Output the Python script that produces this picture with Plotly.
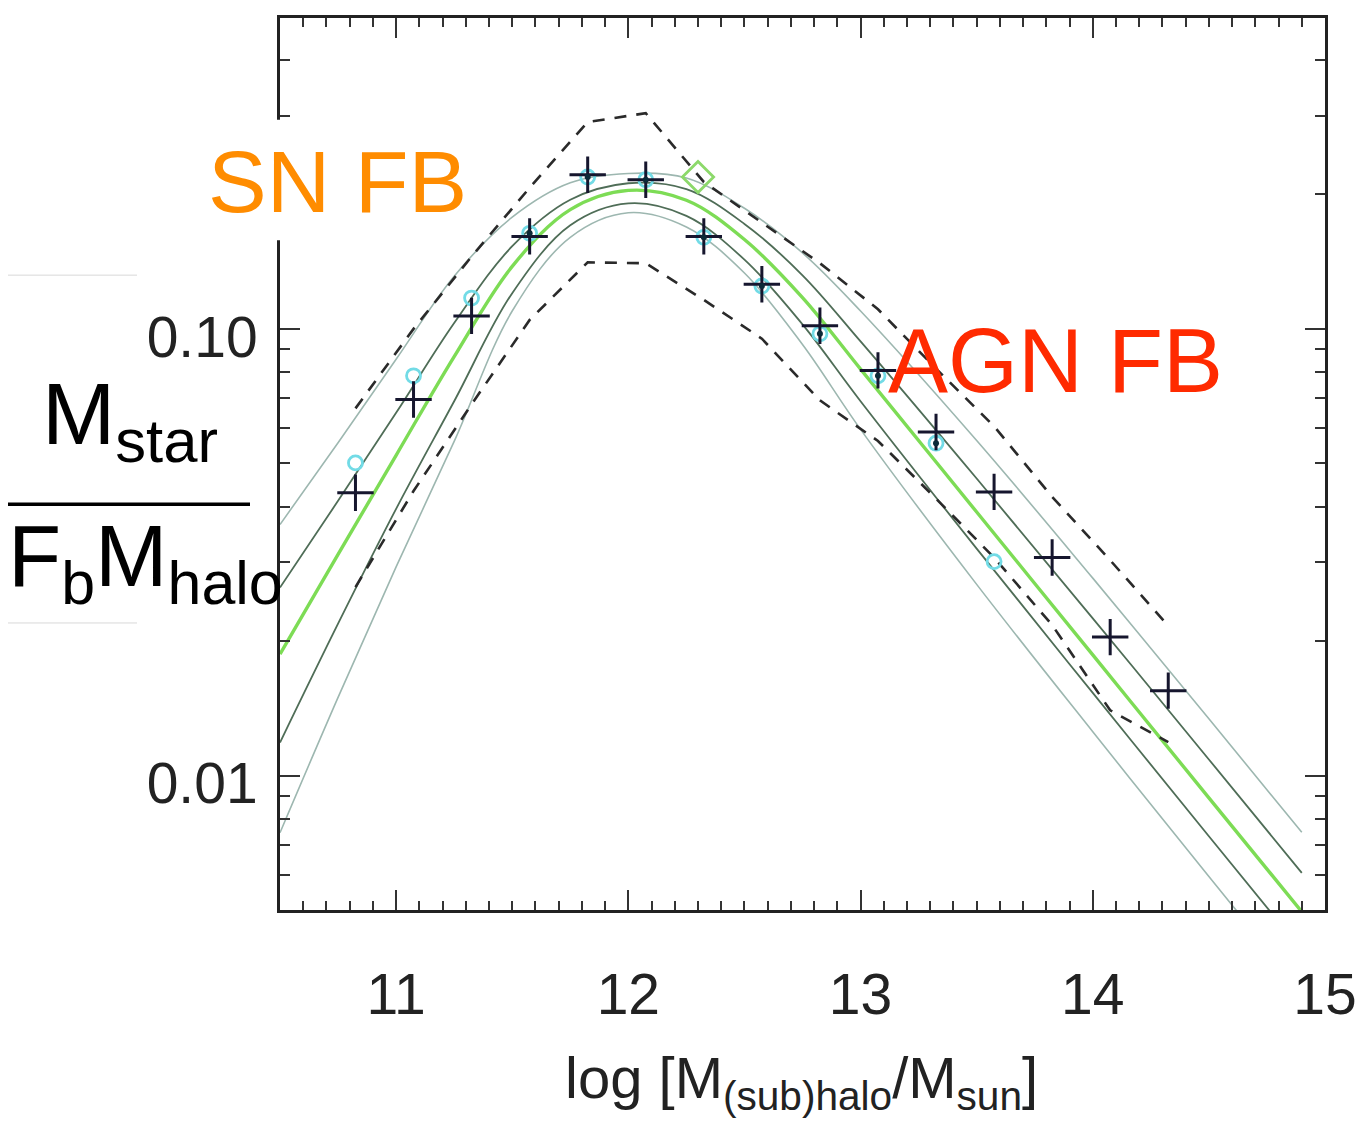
import numpy as np
import plotly.graph_objects as go

# ---------------- data ----------------
# model curves: x = log halo mass, values = log10(Mstar / (Fb Mhalo))
curve_x = [10.5, 10.75, 11.0, 11.25, 11.5, 11.75, 12.0, 12.25, 12.5, 12.75, 13.0, 13.5, 14.0, 14.5, 14.9]
green_log = [-1.728, -1.505, -1.283, -1.062, -0.860, -0.733, -0.690, -0.712, -0.800, -0.930, -1.090, -1.410, -1.730, -2.050, -2.305]
dark_upper_log = [-1.579, -1.385, -1.188, -0.987, -0.815, -0.711, -0.674, -0.687, -0.765, -0.880, -1.028, -1.335, -1.648, -1.964, -2.218]
dark_lower_log = [-1.926, -1.660, -1.403, -1.162, -0.920, -0.768, -0.719, -0.747, -0.845, -0.990, -1.162, -1.492, -1.815, -2.136, -2.391]
outer_upper_log = [-1.438, -1.255, -1.068, -0.882, -0.750, -0.673, -0.652, -0.662, -0.730, -0.830, -0.960, -1.250, -1.558, -1.873, -2.127]
outer_lower_log = [-2.128, -1.825, -1.533, -1.252, -0.960, -0.795, -0.740, -0.772, -0.875, -1.035, -1.225, -1.572, -1.902, -2.226, -2.483]

# binned data
bin_x = [10.825, 11.075, 11.325, 11.575, 11.825, 12.075, 12.325, 12.575, 12.825, 13.075, 13.325, 13.575, 13.825, 14.075, 14.325]
upper_dashed_log = [-1.178, -1.000, -0.838, -0.684, -0.537, -0.517, -0.671, -0.762, -0.853, -0.956, -1.089, -1.218, -1.376, -1.518, -1.665]
lower_dashed_log = [-1.578, -1.363, -1.169, -0.980, -0.851, -0.853, -0.935, -1.022, -1.160, -1.251, -1.380, -1.512, -1.663, -1.854, -1.925]
cross_log = [-1.367, -1.158, -0.971, -0.793, -0.655, -0.666, -0.793, -0.900, -0.993, -1.093, -1.231, -1.365, -1.512, -1.690, -1.810]

cyan_x = [10.825, 11.075, 11.325, 11.575, 11.825, 12.075, 12.325, 12.575, 12.825, 13.075, 13.325, 13.575]
cyan_log = [-1.300, -1.105, -0.931, -0.786, -0.660, -0.666, -0.795, -0.904, -1.011, -1.105, -1.256, -1.521]

dot_x = [11.575, 11.825, 12.075, 12.325, 12.575, 12.825, 13.075, 13.325]
dot_log = [-0.786, -0.660, -0.666, -0.795, -0.904, -1.011, -1.105, -1.256]

diamond_x = [12.30]
diamond_log = [-0.660]

x_tickvals = [11, 12, 13, 14, 15]
x_ticktext = ["11", "12", "13", "14", "15"]
y_tickvals = [0.01, 0.1]
y_ticktext = ["0.01", "0.10"]
y_minor_vals = [0.005, 0.006, 0.007, 0.008, 0.009,
                0.02, 0.03, 0.04, 0.05, 0.06, 0.07, 0.08, 0.09,
                0.2, 0.3, 0.4, 0.5]


def lin(v):
    return np.power(10.0, np.array(v))


FONT = "Liberation Sans, Arial, Helvetica, sans-serif"

fig = go.Figure()

fig.add_trace(go.Scatter(x=curve_x, y=lin(outer_upper_log), mode="lines",
                         line=dict(color="#9db7b0", width=1.6, shape="spline"), showlegend=False))
fig.add_trace(go.Scatter(x=curve_x, y=lin(outer_lower_log), mode="lines",
                         line=dict(color="#9db7b0", width=1.6, shape="spline"), showlegend=False))
fig.add_trace(go.Scatter(x=curve_x, y=lin(dark_upper_log), mode="lines",
                         line=dict(color="#4f6d57", width=1.8, shape="spline"), showlegend=False))
fig.add_trace(go.Scatter(x=curve_x, y=lin(dark_lower_log), mode="lines",
                         line=dict(color="#4f6d57", width=1.8, shape="spline"), showlegend=False))
fig.add_trace(go.Scatter(x=curve_x, y=lin(green_log), mode="lines",
                         line=dict(color="#7ddc55", width=3.4, shape="spline"), showlegend=False))

fig.add_trace(go.Scatter(x=bin_x, y=lin(upper_dashed_log), mode="lines",
                         line=dict(color="#2a2a2a", width=2.6, dash="12px,10px"), showlegend=False))
fig.add_trace(go.Scatter(x=bin_x, y=lin(lower_dashed_log), mode="lines",
                         line=dict(color="#2a2a2a", width=2.6, dash="12px,10px"), showlegend=False))

fig.add_trace(go.Scatter(x=cyan_x, y=lin(cyan_log), mode="markers",
                         marker=dict(symbol="circle-open", size=14, color="#72dbe6",
                                     line=dict(width=2.8, color="#72dbe6")), showlegend=False))
fig.add_trace(go.Scatter(x=bin_x, y=lin(cross_log), mode="markers",
                         marker=dict(symbol="cross-thin", size=26, color="#16162e",
                                     line=dict(width=3, color="#16162e")), showlegend=False))
fig.add_trace(go.Scatter(x=dot_x, y=lin(dot_log), mode="markers",
                         marker=dict(symbol="circle", size=6, color="#0b2a38"), showlegend=False))
fig.add_trace(go.Scatter(x=diamond_x, y=lin(diamond_log), mode="markers",
                         marker=dict(symbol="diamond-open", size=24, color="#8cd96a",
                                     line=dict(width=2.8, color="#8cd96a")), showlegend=False))

# the page has an 8px body margin, so the figure is drawn 8px right/down
OFF = 8
L, R, T, B = 272, 41, 7, 219
W, H = 1366 - OFF, 1129 - OFF
PW, PH = W - L - R, H - T - B


def px(xp):  # page pixel x -> paper
    return (xp - OFF - L) / PW


def py(yp):  # page pixel y -> paper
    return (H - B - (yp - OFF)) / PH


axis_common = dict(showline=True, linecolor="#222222", linewidth=3, mirror="allticks",
                   ticks="inside", ticklen=20, tickwidth=2, tickcolor="#333333",
                   showgrid=False, zeroline=False,
                   tickfont=dict(family=FONT, size=57, color="#222222"))

fig.update_layout(
    width=W, height=H,
    margin=dict(l=L, r=R, t=T, b=B),
    paper_bgcolor="white", plot_bgcolor="white",
    xaxis=dict(range=[10.5, 15.0], tickmode="array", tickvals=x_tickvals, ticktext=x_ticktext,
               ticklabelstandoff=33,
               minor=dict(ticks="inside", ticklen=9, tickwidth=2, tickcolor="#333333",
                          dtick=0.1, tick0=10.5, showgrid=False),
               **axis_common),
    yaxis=dict(type="log", range=[np.log10(0.005), -0.304], tickmode="array",
               tickvals=y_tickvals, ticktext=y_ticktext, ticklabelstandoff=8,
               ticklabelshift=8,
               minor=dict(ticks="inside", ticklen=10, tickwidth=2, tickcolor="#333333",
                          tickmode="array", tickvals=y_minor_vals, showgrid=False),
               **axis_common),
    showlegend=False,
)

shapes = [
    # white patch behind "SN FB"
    dict(type="rect", xref="paper", yref="paper", x0=px(200), x1=px(483), y0=py(238), y1=py(117),
         fillcolor="white", line=dict(width=0), layer="above"),
    # fraction bar of the y label
    dict(type="line", xref="paper", yref="paper", x0=px(8), x1=px(250), y0=py(503), y1=py(503),
         line=dict(color="black", width=3.5), layer="above"),
    # faint edges of the label box
    dict(type="line", xref="paper", yref="paper", x0=px(8), x1=px(137), y0=py(273), y1=py(273),
         line=dict(color="#d8d8d8", width=1), layer="above"),
    dict(type="line", xref="paper", yref="paper", x0=px(8), x1=px(137), y0=py(622), y1=py(622),
         line=dict(color="#d8d8d8", width=1), layer="above"),
]
fig.update_layout(shapes=shapes)

annotations = [
    dict(text="SN FB", x=px(337), y=py(179), xref="paper", yref="paper", showarrow=False,
         xanchor="center", yanchor="middle", font=dict(family=FONT, size=88, color="#ff8c00")),
    dict(text="AGN FB", x=px(1055), y=py(359), xref="paper", yref="paper", showarrow=False,
         xanchor="center", yanchor="middle", font=dict(family=FONT, size=90, color="#ff2a00")),
    dict(text="M<sub>star</sub>", x=px(130), y=py(418), xref="paper", yref="paper", showarrow=False,
         xanchor="center", yanchor="middle", font=dict(family=FONT, size=88, color="black")),
    dict(text="F<sub>b</sub>M<sub>halo</sub>", x=px(145), y=py(561), xref="paper", yref="paper",
         showarrow=False, xanchor="center", yanchor="middle",
         font=dict(family=FONT, size=87, color="black")),
    dict(text="log [M<sub>(sub)halo</sub>/M<sub>sun</sub>]", x=px(801), y=py(1083), xref="paper",
         yref="paper", showarrow=False, xanchor="center", yanchor="middle",
         font=dict(family=FONT, size=58, color="#222222")),
]
fig.update_layout(annotations=annotations)

fig.write_html("out.html")
